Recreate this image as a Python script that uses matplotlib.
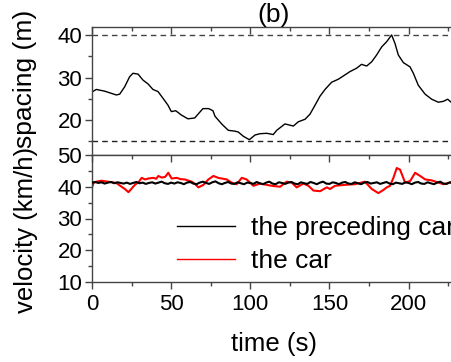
import numpy as np
import matplotlib
matplotlib.use("Agg")
import matplotlib.pyplot as plt

plt.rcParams['font.family'] = ['Liberation Sans', 'DejaVu Sans']

# ---- data ----
spacing_t = [0, 2.7, 8, 15.4, 17.5, 20.6, 23.8, 25.9, 29.1, 32.2, 35.4, 38.5, 41.7, 44.9,
             48, 50.1, 52.9, 56.4, 60.6, 64.9, 67, 70.1, 73.7, 76.4, 77.7, 81.9, 86.1, 90.3,
             92.4, 95.6, 99.4, 103, 106.1, 110.4, 114.5, 116.7, 121.9, 127.2, 130.3, 134.6,
             137.7, 140.9, 144, 147.2, 151.4, 155.6, 163, 167.2, 170.3, 173.5, 176.7, 179.8,
             183, 186.1, 189.3, 191.4, 193.5, 196.7, 200.9, 203, 206.1, 210.4, 214.6, 218.8,
             221.9, 224.7, 227.2, 230]
spacing_m = [26.6, 27.2, 26.8, 25.9, 26.1, 27.8, 30.2, 31.0, 30.8, 29.4, 28.5, 27.2, 26.7, 25.1,
             23.5, 22.0, 22.2, 21.2, 20.3, 20.5, 21.4, 22.7, 22.7, 22.2, 20.9, 19.1, 17.6, 17.4,
             17.2, 16.2, 15.4, 16.5, 16.8, 16.9, 16.6, 17.6, 19.1, 18.6, 19.6, 20.2,
             21.4, 23.5, 25.6, 27.2, 28.9, 29.6, 31.4, 32.2, 33.1, 32.7, 33.7, 35.3,
             37.2, 38.4, 40.0, 38.0, 35.3, 33.5, 32.5, 31.0, 28.2, 26.1, 24.9, 24.2,
             24.4, 24.9, 24.1, 24.3]
safe_upper = 40
safe_lower = 15

prec_t = np.arange(0, 231, 2)
prec_v = [41.3, 41.5, 41.2, 41.4, 41.0, 41.3, 41.5, 41.1, 41.4, 41.2, 41.0,
          41.3, 40.9, 41.2, 41.5, 41.1, 41.3, 40.9, 41.2, 41.4, 41.0,
          41.3, 41.6, 41.1, 40.9, 41.3, 41.0, 41.4, 41.2, 40.8, 41.3,
          41.5, 41.0, 40.8, 41.3, 41.6, 41.2, 40.9, 41.4, 41.7, 41.1,
          40.8, 41.2, 41.5, 41.0, 40.9, 41.4, 41.1, 40.8, 41.3, 41.2,
          40.9, 41.5, 41.1, 40.8, 41.3, 41.6, 41.0, 40.8, 41.4, 41.2,
          40.9, 41.3, 41.5, 41.0, 40.8, 41.4, 41.1, 40.9, 41.5, 41.2,
          40.8, 41.3, 41.6, 41.0, 40.9, 41.4, 41.2, 40.8, 41.3, 41.5,
          41.0, 40.9, 41.4, 41.1, 40.8, 41.3, 41.5, 41.0, 41.2, 41.4,
          40.9, 41.2, 41.5, 41.0, 40.8, 41.3, 41.1, 40.9, 41.4, 41.2,
          40.8, 41.3, 41.5, 41.0, 40.9, 41.4, 41.1, 40.8, 41.3, 41.6,
          41.0, 40.9, 41.4, 41.2, 41.0]

car_t = [0, 1, 2.7, 6, 10, 13, 15.6, 18.7, 21, 23, 24.5, 26, 27.5, 29.2, 31.4, 33.5, 35.6, 38.8,
         40.5, 41.9, 44, 46.2, 48.2, 50.3, 53.5, 56, 58.7, 63, 65, 67.2, 70.4, 73.5, 76.7,
         79.8, 85.1, 88.2, 91.4, 94.6, 97.7, 101.9, 106.1, 110.3, 113.5, 118.8, 123, 126.2,
         129.3, 133.6, 136.7, 139.9, 144.1, 148.3, 150.4, 153.5, 159.8, 166.1, 172.4, 176.7,
         180.9, 184.1, 186.2, 188.3, 190.4, 192.5, 194.6, 197.8, 201, 204.1, 207.3, 210.5,
         214.7, 218.9, 222, 226.2, 230]
car_v = [39.8, 41.2, 41.6, 41.9, 41.6, 41.4, 41.1, 40.0, 39.2, 38.3, 39.1, 40.0, 40.8, 41.3,
         42.8, 42.3, 42.6, 42.8, 42.5, 43.4, 42.9, 43.1, 44.4, 42.6, 42.8, 42.4, 42.3, 41.6,
         40.9, 39.8, 40.6, 42.3, 43.4,
         42.8, 42.3, 41.3, 40.8, 42.8, 42.3, 40.3, 41.0, 40.6, 40.3, 40.0, 41.6, 41.3,
         39.8, 41.0, 40.3, 38.8, 38.6, 39.8, 39.3, 40.3, 40.6, 40.8, 41.6, 39.3,
         38.0, 39.0, 39.8, 40.3, 42.8, 45.9, 45.4, 41.3, 41.8, 44.4, 43.4, 42.3,
         42.0, 41.3, 40.8, 41.3, 41.5]

# ---- figure ----
fig = plt.figure(figsize=(4.52, 3.62), dpi=100)
W, H = 452, 362
left = 92 / W
width = (230 * 1.583) / W
ax1 = fig.add_axes([left, (H - 155) / H, width, 127.7 / H])
ax2 = fig.add_axes([left, (H - 282) / H, width, 127 / H])

spine_c = '#444444'
for ax in (ax1, ax2):
    for s in ax.spines.values():
        s.set_color(spine_c)
        s.set_linewidth(1.0)
    ax.set_xlim(0, 230)
    ax.set_xticks([0, 50, 100, 150, 200])
    ax.set_xticks([25, 75, 125, 175, 225], minor=True)
    ax.tick_params(axis='y', which='major', direction='out', length=5, width=1.0,
                   color=spine_c, labelsize=16, pad=2)
    ax.tick_params(axis='y', which='minor', direction='out', length=3, width=1.0,
                   color=spine_c)

# top panel
ax1.plot(spacing_t, spacing_m, color='black', lw=1.0)
ax1.axhline(safe_upper, color='#444444', lw=1.0, ls=(0, (4, 3)))
ax1.axhline(safe_lower, color='#222222', lw=1.0, ls=(0, (4, 3)))
ax1.set_ylim(11.8, 41.8)
ax1.set_yticks([20, 30, 40])
ax1.set_yticks([15, 25, 35], minor=True)
ax1.tick_params(axis='x', which='both', bottom=False, top=True, labelbottom=False,
                direction='in', color=spine_c, width=1.0)
ax1.tick_params(axis='x', which='major', length=5)
ax1.tick_params(axis='x', which='minor', length=3)
ax1.set_title('(b)', fontsize=19, pad=1)
ax1.set_ylabel('spacing (m)', fontsize=19)
ax1.yaxis.set_label_coords(-0.150, 0.60)

# bottom panel
ax2.plot(prec_t, prec_v, color='black', lw=1.5, label='the preceding car', zorder=3)
ax2.plot(car_t, car_v, color='red', lw=1.5, label='the car', zorder=2)
ax2.set_ylim(10, 50)
ax2.set_yticks([10, 20, 30, 40, 50])
ax2.set_yticks([15, 25, 35, 45], minor=True)
ax2.tick_params(axis='x', which='both', bottom=True, top=True, direction='out',
                color=spine_c, width=1.0, labelsize=16, pad=4)
ax2.tick_params(axis='x', which='major', length=5)
ax2.tick_params(axis='x', which='minor', length=3)
for t in ax2.xaxis.get_major_ticks() + ax2.xaxis.get_minor_ticks():
    t.tick2line.set_marker(3)  # top ticks point down into the panel
ax2.set_xlabel('time (s)', fontsize=18.5, labelpad=12)
ax2.set_ylabel('velocity (km/h)', fontsize=18.5)
ax2.yaxis.set_label_coords(-0.148, 0.41)

leg = ax2.legend(loc='upper left', bbox_to_anchor=(177 / W, (H - 216) / H),
                 bbox_transform=fig.transFigure, frameon=False, fontsize=19,
                 handlelength=2.2, handletextpad=0.6, labelspacing=0.34,
                 borderpad=0, borderaxespad=0)
for line in leg.get_lines():
    line.set_linewidth(1.0)

fig.savefig('out.png', dpi=100)
